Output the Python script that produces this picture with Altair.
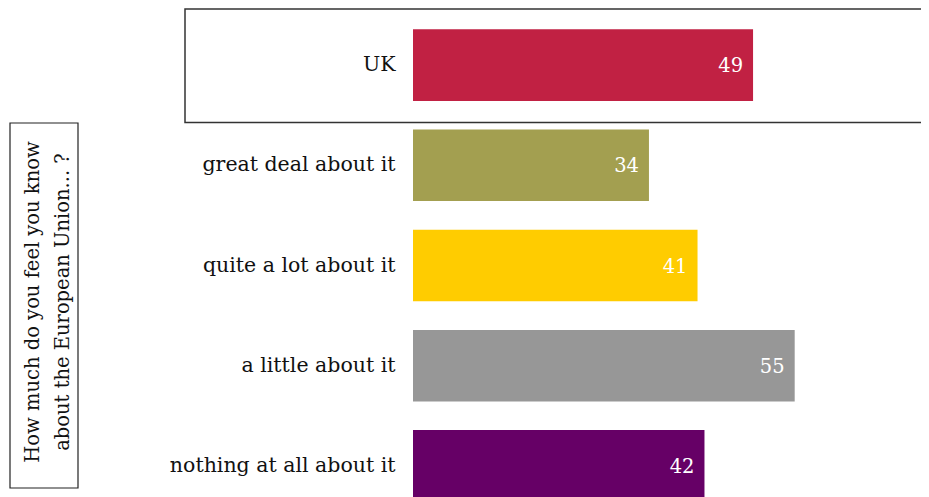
import altair as alt
import pandas as pd

categories = ["UK", "great deal about it", "quite a lot about it", "a little about it", "nothing at all about it"]
values = [49, 34, 41, 55, 42]
colors = ["#C12143", "#A39F50", "#FFCC00", "#979797", "#660066"]
title_lines = ["How much do you feel you know", "about the European Union... ?"]
highlight = ["UK"]

df = pd.DataFrame({"cat": categories, "val": values, "color": colors})
FONT = "DejaVu Serif"
W, H = 508, 501

y_enc = alt.Y("cat:N", sort=categories,
              scale=alt.Scale(paddingInner=0.285, paddingOuter=0.1425),
              axis=alt.Axis(title=None, domain=False, ticks=False, labelPadding=18,
                            labelFont=FONT, labelFontSize=20.5, labelColor="#111111",
                            labelLimit=400))
x_enc = alt.X("val:Q", scale=alt.Scale(domain=[0, 73.2], nice=False, zero=True), axis=None)

base = alt.Chart(df)

bars = base.mark_bar().encode(
    y=y_enc, x=x_enc,
    color=alt.Color("color:N", scale=None, legend=None),
)

labels = base.mark_text(align="right", baseline="middle", dx=-10, dy=1,
                        font=FONT, fontSize=19.5, color="white").encode(
    y=alt.Y("cat:N", sort=categories), x="val:Q", text="val:Q")

box = alt.Chart(pd.DataFrame({"cat": highlight})).mark_bar(
    filled=False, stroke="#333333", strokeWidth=1.5, height={"band": 1.583}, yOffset=0.7
).encode(y=alt.Y("cat:N", sort=categories), x=alt.value(-228), x2=alt.value(W + 10))

tbox = alt.Chart(pd.DataFrame({"a": [0]})).mark_rect(
    fill="white", stroke="#222222", strokeWidth=1.2
).encode(x=alt.value(-403), x2=alt.value(-335), y=alt.value(108), y2=alt.value(473))

line_df = pd.DataFrame({"t": title_lines, "i": [0, 1]})
ttext1 = alt.Chart(line_df.iloc[[0]]).mark_text(
    angle=270, align="center", baseline="middle", font=FONT, fontSize=19.5,
    color="#111111"
).encode(x=alt.value(-380), y=alt.value(287), text="t:N")
ttext2 = alt.Chart(line_df.iloc[[1]]).mark_text(
    angle=270, align="center", baseline="middle", font=FONT, fontSize=19.5,
    color="#111111"
).encode(x=alt.value(-350), y=alt.value(287), text="t:N")

chart = alt.layer(box, bars, labels, tbox, ttext1, ttext2).properties(
    width=W, height=H,
    autosize=alt.AutoSizeParams(type="none"),
    padding={"left": 405, "top": 7, "right": 0, "bottom": 0},
).configure_view(stroke=None)

chart.save("out.html", embed_options={"renderer": "svg", "actions": False})
